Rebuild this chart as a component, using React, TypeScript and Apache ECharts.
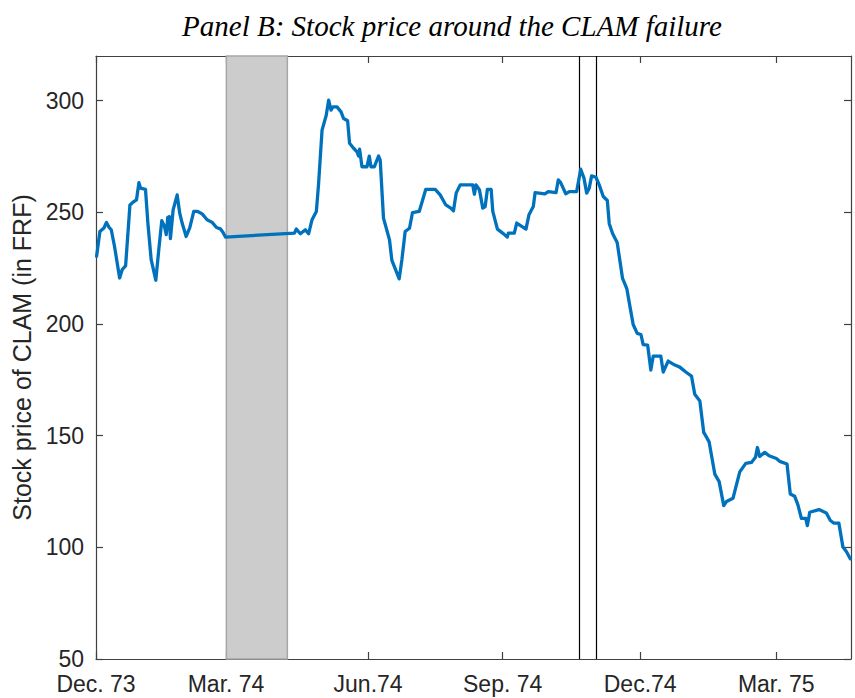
import React, { useEffect, useRef } from "react";
import * as echarts from "echarts";

// x values: days since 1 Dec 1973
const days = [
  0.4, 2.6, 5.3, 7, 8.6, 10.2, 12.4, 15.8, 17.5, 19.8, 22.7, 25.3, 27.1, 28.7, 29.8, 33.1, 34.7, 36.9, 40, 42,
  44, 45.8, 47, 48, 49, 49.8, 51.6, 54.3, 56, 57.6, 60.3, 62.7, 65.4, 68, 71, 74.3, 77.7, 80.6, 83.2, 85,
  86.6, 132.7, 134, 136.7, 140, 142.2, 144.5, 147.4, 148.9, 151.2, 154, 155.6, 157.2, 158.5, 161.2, 163.9, 165.6, 168.3, 169.6, 172.3,
  174.6, 175.6, 176.3, 177.9, 181.2, 182.8, 183.9, 186.1, 189, 190.1, 192.3, 196.3, 197.9, 199.5, 202.8, 204.6, 206.8, 209.7, 211.7, 216.2,
  220.6, 226.9, 230.2, 234, 237.3, 239.1, 240.9, 243.6, 252, 253.1, 254.2, 256.5, 258.7, 260.3, 261.8, 264.3, 265.4, 268.5, 272, 275.1,
  275.8, 279.8, 281.4, 287.6, 289.6, 292.5, 293.7, 300.3, 302.5, 307.7, 309.2, 310.8, 314.2, 316.6, 321.5, 324.2, 326.4, 328.2, 329.9, 331.5,
  334.4, 336.6, 339.3, 342, 343.3, 345.6, 348.6, 352.2, 355.1, 357.1, 359.3, 362, 364.5, 366, 369, 371.1, 372.7, 377.8, 379.4, 382.7,
  387.2, 390.5, 394.5, 398.3, 400.5, 403.9, 406.5, 407.2, 410.1, 413.9, 416.8, 419.9, 421.7, 426.1, 430.6, 434.6, 438.4, 441.1, 442.4, 443.9,
  447.3, 450.2, 455.1, 457.3, 462.2, 464.4, 467.3, 469.5, 471.8, 474.7, 475.8, 477.4, 483.6, 488.5, 491.2, 493.4, 496.9, 499.6, 501.9, 504.5,
];

const prices = [
  230.3, 241.4, 243, 245.5, 243.4, 242.2, 234.7, 220.6, 224.3, 226, 253.3, 254.8, 255.6, 263.3, 260.8, 260.3, 245.2, 228.8, 219.6, 233.3,
  246.3, 243.7, 240, 247.7, 248.1, 238.2, 251.1, 257.8, 249.6, 245.2, 239.2, 243, 250.4, 250.4, 249.3, 246.7, 245.5, 243.2, 242.6, 241,
  238.9, 240.7, 242.5, 240.4, 242.2, 240.4, 246.7, 250.4, 263, 286.8, 293.5, 300.2, 295.8, 297.2, 297.2, 295, 292, 291, 280.9, 278.7,
  277.1, 275.2, 278.3, 270.4, 270.4, 275.2, 270.4, 270.4, 275.2, 273.4, 247.4, 237.7, 228.5, 225.8, 220.2, 228.8, 241.4, 242.9, 249.9, 250.4,
  260.3, 260.3, 257.8, 253.3, 251.9, 250.7, 258.6, 262.3, 262.3, 258.1, 262.3, 260, 251.9, 252.6, 260.3, 260.3, 250.4, 242.5, 240.7, 238.9,
  240.7, 240.7, 245.2, 242.5, 248.9, 252.6, 258.8, 258.3, 259.3, 258.8, 264.5, 263.3, 258.3, 259.3, 259.3, 269.3, 265.3, 258.6, 260.8, 266.3,
  265.7, 262.3, 257.1, 255.3, 244.9, 240.4, 236.5, 220.4, 215.7, 208, 199.8, 195.8, 195.3, 190.8, 190.5, 179.4, 185.6, 185.6, 178.5, 183.4,
  181.6, 180.7, 178.5, 176.7, 168.5, 165.5, 151.4, 150.7, 147.2, 132.8, 129.4, 118.7, 120.5, 122, 133.8, 137.6, 138, 140.3, 144.7, 140.7,
  142.5, 141, 139.8, 138.5, 137.3, 123.9, 122.9, 119, 113, 113, 109.7, 115.7, 116.9, 115.4, 112, 110.9, 110.8, 100.1, 98.1, 94.9,
];

const tickDays = [0, 87, 182, 272, 364, 455];
const tickLabels = ["Dec. 73", "Mar. 74", "Jun.74", "Sep. 74", "Dec.74", "Mar. 75"];
const shadeRange = [87.2, 128];
const eventDays = [323.2, 334.5];
const yTicks = [50, 100, 150, 200, 250, 300];

const AXIS_COLOR = "#404040";
const TEXT_COLOR = "#262626";

export default function App() {
  const ref = useRef<HTMLDivElement>(null);

  useEffect(() => {
    if (!ref.current) return;
    const chart = echarts.init(ref.current, undefined, { renderer: "svg" });
    const data = days.map((d, i) => [d, prices[i]]);
    const labelFor = (v: number) => {
      const idx = tickDays.indexOf(v);
      return idx >= 0 ? tickLabels[idx] : "";
    };
    const xCommon = {
      type: "value" as const,
      min: 0,
      max: 505,
      splitLine: { show: false },
      axisLine: { show: true, onZero: false, lineStyle: { color: AXIS_COLOR, width: 1.2 } },
      axisTick: { show: true, inside: true, length: 7, customValues: tickDays, lineStyle: { color: AXIS_COLOR, width: 1.2 } },
    };
    const yCommon = {
      type: "value" as const,
      min: 50,
      max: 320,
      interval: 50,
      splitLine: { show: false },
      axisLine: { show: true, onZero: false, lineStyle: { color: AXIS_COLOR, width: 1.2 } },
      axisTick: { show: true, inside: true, length: 7, customValues: yTicks, lineStyle: { color: AXIS_COLOR, width: 1.2 } },
    };
    chart.setOption({
      animation: false,
      backgroundColor: "#ffffff",
      grid: { left: 96, right: 4, top: 56, bottom: 39, containLabel: false },
      graphic: [
        {
          type: "text",
          x: 452,
          y: 26,
          style: {
            text: "Panel B: Stock price around the CLAM failure",
            font: "italic 29px 'Liberation Serif', serif",
            fill: "#000",
            textAlign: "center",
            textVerticalAlign: "middle",
          },
        },
      ],
      xAxis: [
        {
          ...xCommon,
          position: "bottom",
          axisLabel: {
            show: true,
            customValues: tickDays,
            formatter: (v: number) => labelFor(v),
            fontSize: 23,
            fontFamily: "'Liberation Sans', Arial, sans-serif",
            color: TEXT_COLOR,
            margin: 13,
          },
        },
        {
          ...xCommon,
          position: "top",
          axisLabel: { show: false },
        },
      ],
      yAxis: [
        {
          ...yCommon,
          position: "left",
          name: "Stock price of CLAM (in FRF)",
          nameLocation: "middle",
          nameGap: 62,
          nameTextStyle: {
            fontSize: 25,
            fontFamily: "'Liberation Sans', Arial, sans-serif",
            color: TEXT_COLOR,
          },
          axisLabel: {
            show: true,
            customValues: yTicks,
            formatter: (v: number) => (v > 300 ? "" : String(v)),
            fontSize: 23,
            fontFamily: "'Liberation Sans', Arial, sans-serif",
            color: TEXT_COLOR,
            margin: 12,
          },
        },
        {
          ...yCommon,
          position: "right",
          axisLabel: { show: false },
        },
      ],
      series: [
        {
          type: "line",
          xAxisIndex: 0,
          yAxisIndex: 0,
          data,
          showSymbol: false,
          symbol: "none",
          lineStyle: { color: "#0072BD", width: 3.3, join: "round", cap: "round" },
          itemStyle: { color: "#0072BD" },
          z: 5,
          markArea: {
            silent: true,
            itemStyle: { color: "#cccccc", borderColor: "#a6a6a6", borderWidth: 1.5 },
            label: { show: false },
            data: [[{ xAxis: shadeRange[0] }, { xAxis: shadeRange[1] }]],
          },
          markLine: {
            silent: true,
            symbol: ["none", "none"],
            label: { show: false },
            lineStyle: { color: "#000000", width: 1.2, type: "solid" },
            data: eventDays.map((d) => ({ xAxis: d })),
          },
        },
      ],
    });
    return () => chart.dispose();
  }, []);

  return (
    <div
      ref={ref}
      style={{ position: "fixed", left: 0, top: 0, width: 855, height: 698, background: "#fff" }}
    />
  );
}
